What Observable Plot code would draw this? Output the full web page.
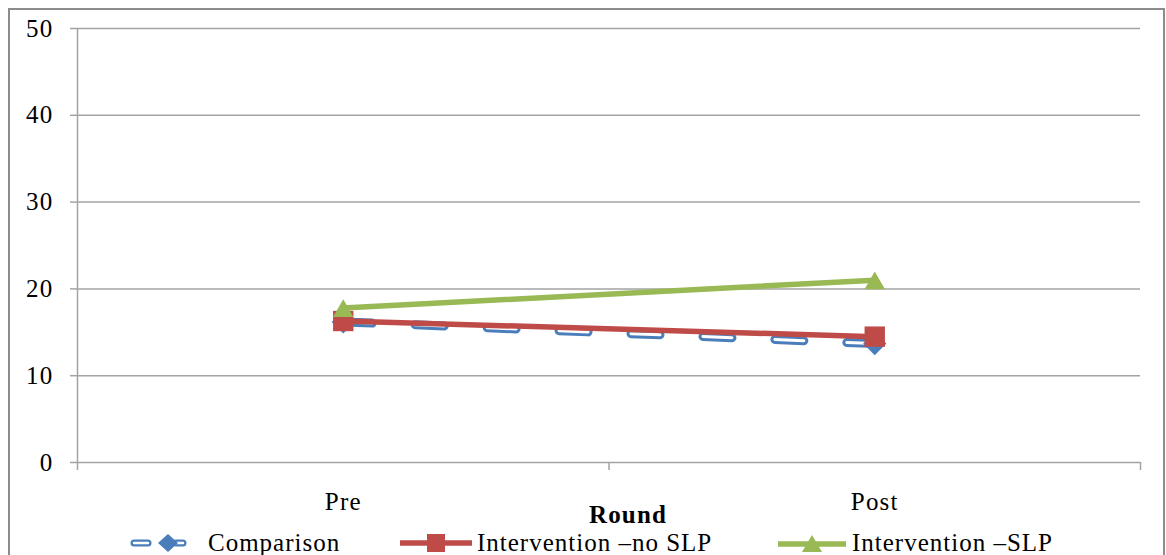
<!DOCTYPE html>
<html>
<head>
<meta charset="utf-8">
<script src="https://cdn.jsdelivr.net/npm/d3@7"></script>
<script src="https://cdn.jsdelivr.net/npm/@observablehq/plot@0.6"></script>
<style>
  html, body { margin: 0; padding: 0; background: #fff; overflow: hidden; font-family: 'Liberation Serif', serif; }
  #frame { position: absolute; left: 8px; top: 8px; width: 1157px; height: 600px;
           border: 2px solid #8c8c8c; box-sizing: border-box; background: #fff; }
  #legend { position: absolute; left: 0; top: 520px; width: 1153px; height: 26px;
            font-family: 'Liberation Serif', serif; font-size: 25px; color: #000; letter-spacing: 1px; }
  .item { position: absolute; top: 0; height: 26px; line-height: 26px; white-space: nowrap; }
  .item svg { position: absolute; top: 0; }
  #chart svg text { font-family: 'Liberation Serif', serif; letter-spacing: 1.2px; }
</style>
</head>
<body>
<div id="frame"><div id="chart"></div><div id="legend"></div></div>
<script>
// ---- data ----
const categories = ["Pre", "Post"];
const seriesNames = ["Comparison", "Intervention \u2013no SLP", "Intervention \u2013SLP"];
const comparison = [16.2, 13.7];
const interventionNoSLP = [16.3, 14.5];
const interventionSLP = [17.8, 21.0];
const yTicks = [0, 10, 20, 30, 40, 50];
const xLabel = "Round";

const colors = ["#4a7ebb", "#be4b48", "#98b954"];

const rows = (vals) => categories.map((c, i) => ({cat: c, pos: i + 0.5, value: vals[i]}));
const comp = rows(comparison);
const noSlp = rows(interventionNoSLP);
const slp = rows(interventionSLP);

const font = "'Liberation Serif', serif";
const gridColor = "#a3a3a3";

const chart = Plot.plot({
  width: 1153,
  height: 520,
  marginLeft: 67,
  marginRight: 23,
  marginTop: 18,
  marginBottom: 68,
  style: {fontFamily: font, background: "white", overflow: "visible"},
  x: {type: "linear", domain: [0, categories.length]},
  y: {domain: [0, 50]},
  marks: [
    Plot.ruleY(yTicks, {stroke: gridColor, strokeWidth: 1.5}),
    Plot.ruleX([0], {stroke: gridColor, strokeWidth: 1.5}),
    Plot.axisY({ticks: yTicks, tickSize: 7, tickPadding: 17, stroke: gridColor, strokeWidth: 1.5,
                fill: "black", fontSize: 25, label: null, tickFormat: d => String(d)}),
    Plot.axisX({ticks: d3.range(categories.length + 1), tickSize: 8, stroke: gridColor, strokeWidth: 1.5,
                tickFormat: () => "", label: null}),
    Plot.axisX({ticks: categories.map((c, i) => i + 0.5), tickSize: 0, tickPadding: 30,
                tickFormat: d => categories[Math.round(d - 0.5)], fill: "black", fontSize: 25, label: null}),
    Plot.text([xLabel], {frameAnchor: "bottom", dy: 60, dx: 19, fontWeight: "bold", fontSize: 25, fill: "black"}),
    // Comparison: dashed double line
    Plot.line(comp, {x: "pos", y: "value", stroke: colors[0], strokeWidth: 9, strokeDasharray: "29,43", strokeLinecap: "round"}),
    Plot.line(comp, {x: "pos", y: "value", stroke: "white", strokeWidth: 3, strokeDasharray: "29,43", strokeLinecap: "round"}),
    Plot.dot(comp, {x: "pos", y: "value", symbol: "diamond2", r: 10.5, fill: colors[0], stroke: "none"}),
    // Intervention - no SLP
    Plot.line(noSlp, {x: "pos", y: "value", stroke: colors[1], strokeWidth: 5.5}),
    Plot.dot(noSlp, {x: "pos", y: "value", symbol: "square", r: 11.5, fill: colors[1], stroke: "none"}),
    // Intervention - SLP
    Plot.line(slp, {x: "pos", y: "value", stroke: colors[2], strokeWidth: 5.5}),
    Plot.dot(slp, {x: "pos", y: "value", symbol: "triangle", r: 7.6, dy: 3, fill: colors[2], stroke: "none"})
  ]
});
document.getElementById("chart").appendChild(chart);

// ---- legend ----
const legend = document.getElementById("legend");
const legendItems = [
  {name: seriesNames[0], color: colors[0], left: 120, symW: 60, textLeft: 78, kind: "comp"},
  {name: seriesNames[1], color: colors[1], left: 390, symW: 72, textLeft: 77, kind: "square"},
  {name: seriesNames[2], color: colors[2], left: 768, symW: 68, textLeft: 74, kind: "tri"}
];
for (const it of legendItems) {
  const div = document.createElement("div");
  div.className = "item";
  div.style.left = it.left + "px";
  const w = it.symW, cy = 13, cx = w / 2;
  let sym = "";
  if (it.kind === "comp") {
    const seg = (a, b) =>
      `<line x1="${a}" y1="${cy}" x2="${b}" y2="${cy}" stroke="${it.color}" stroke-width="7" stroke-linecap="round"/>` +
      `<line x1="${a}" y1="${cy}" x2="${b}" y2="${cy}" stroke="white" stroke-width="2.5" stroke-linecap="round"/>`;
    sym = seg(4, 18) + seg(46, 53) +
          `<path d="M38,${cy-9}L48,${cy}L38,${cy+9}L28,${cy}Z" fill="${it.color}"/>`;
  } else if (it.kind === "square") {
    sym = `<line x1="0" y1="${cy}" x2="${w}" y2="${cy}" stroke="${it.color}" stroke-width="5.5"/>` +
          `<rect x="${cx-9}" y="${cy-9}" width="18" height="18" fill="${it.color}"/>`;
  } else {
    sym = `<line x1="0" y1="${cy+1}" x2="${w}" y2="${cy+1}" stroke="${it.color}" stroke-width="5.5"/>` +
          `<path d="M${cx},${cy-8}L${cx+10},${cy+9}L${cx-10},${cy+9}Z" fill="${it.color}"/>`;
  }
  div.innerHTML = `<svg width="${w}" height="26">${sym}</svg>` +
                  `<span style="position:absolute;left:${it.textLeft}px;top:0">${it.name}</span>`;
  legend.appendChild(div);
}
</script>
</body>
</html>
